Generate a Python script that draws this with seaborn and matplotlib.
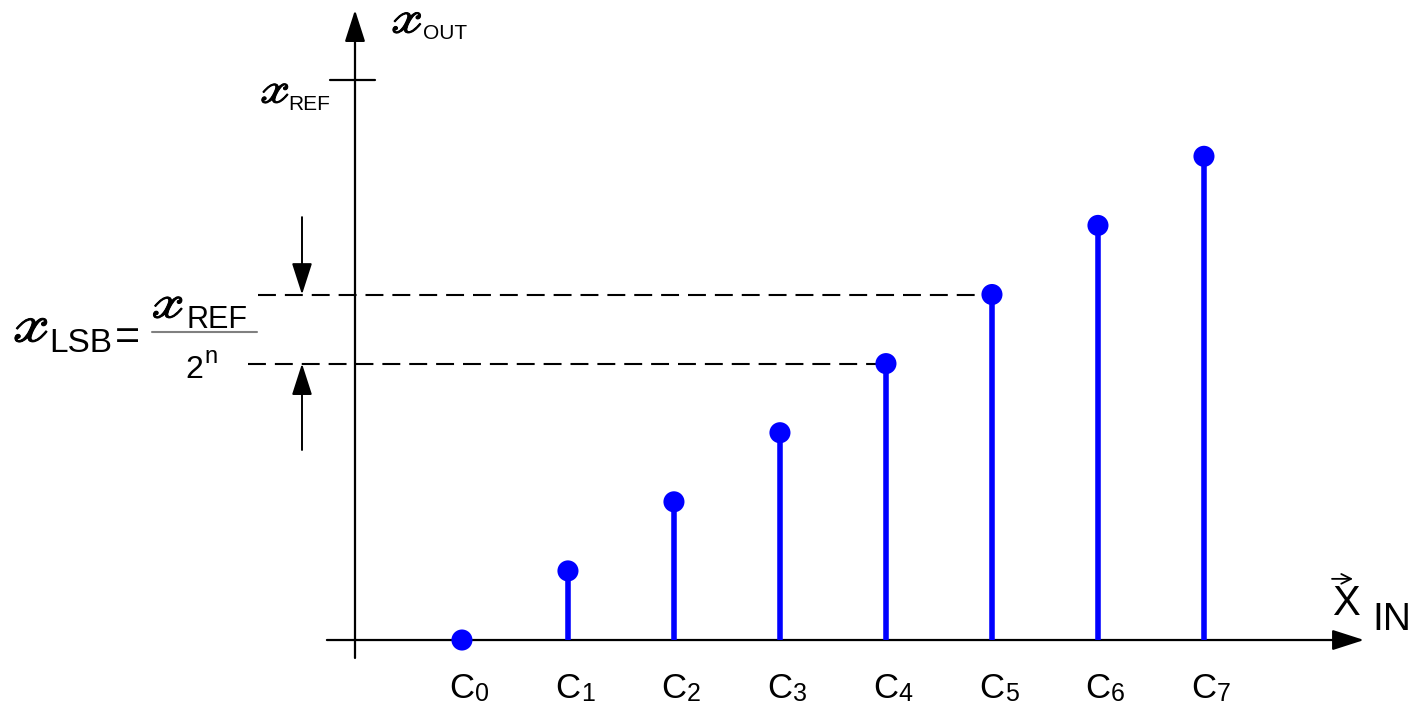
import matplotlib
matplotlib.use("Agg")
import matplotlib.pyplot as plt
import matplotlib.patheffects as pe
import seaborn as sns
import pandas as pd

# Output codes of an ideal 3-bit DAC, in units of one LSB
codes = ["C0", "C1", "C2", "C3", "C4", "C5", "C6", "C7"]
code_index = [0, 1, 2, 3, 4, 5, 6, 7]
levels = [0, 1, 2, 3, 4, 5, 6, 7]
x_ref_level = 8.1

sns.set_theme(style="white")
plt.rcParams["font.family"] = ["Liberation Sans", "DejaVu Sans"]
plt.rcParams["text.color"] = "black"

BLUE = "#0000ff"
SANS = "Liberation Sans"
SCRIPT_X = r"$\mathscr{x}$"

fig = plt.figure(figsize=(14.13, 7.04), dpi=100)
ax = fig.add_axes([0, 0, 1, 1])

df = pd.DataFrame({"code": codes, "x": code_index, "level": levels})

# stems
stem = df[df["level"] > 0]
ax.vlines(stem["x"], 0, stem["level"], color=BLUE, lw=4.0, zorder=3)
# dots
sns.scatterplot(data=df, x="x", y="level", ax=ax, color=BLUE, s=230,
                edgecolor="none", zorder=4, legend=False)
ax.set_xlim(-4.358, 8.972)
ax.set_ylim(-0.926, 9.262)
ax.set_axis_off()

# axes with arrow heads
head = "-|>,head_length=1.4,head_width=0.45"
arrow_kw = dict(mutation_scale=14, color="black", shrinkA=0, shrinkB=0)
ax.annotate("", xy=(8.51, 0), xytext=(-1.274, 0),
            arrowprops=dict(arrowstyle=head, lw=1.6, **arrow_kw), zorder=2)
ax.annotate("", xy=(-1.009, 9.117), xytext=(-1.009, -0.26),
            arrowprops=dict(arrowstyle=head, lw=1.6, **arrow_kw), zorder=2)

# full-scale tick on the vertical axis
ax.plot([-1.245, -0.821], [x_ref_level, x_ref_level], color="black", lw=1.6)

# dashed guides to codes 4 and 5
dash = (0, (8.6, 4.3))
ax.plot([-1.925, code_index[5]], [levels[5], levels[5]], color="black", lw=1.5,
        linestyle=dash, zorder=2)
ax.plot([-2.019, code_index[4]], [levels[4], levels[4]], color="black", lw=1.5,
        linestyle=dash, zorder=2)

# LSB step arrows
ax.annotate("", xy=(-1.509, levels[5]), xytext=(-1.509, 6.12),
            arrowprops=dict(arrowstyle=head, lw=1.4, **arrow_kw))
ax.annotate("", xy=(-1.509, levels[4]), xytext=(-1.509, 2.75),
            arrowprops=dict(arrowstyle=head, lw=1.4, **arrow_kw))

# code labels under the horizontal axis
for xi, name in zip(code_index, codes):
    ax.text(xi, -0.84, "C", family=SANS, fontsize=25, ha="center",
            va="baseline", color="black")
    ax.text(xi + 0.12, -0.885, name[1:], family=SANS, fontsize=18, ha="left",
            va="baseline", color="black")


def script_x(x, y, size):
    return ax.text(x, y, SCRIPT_X, fontsize=size, ha="left", va="baseline",
                   color="black", math_fontfamily="stix",
                   path_effects=[pe.withStroke(linewidth=0.7,
                                               foreground="black")])


def sans(x, y, s, size, **kw):
    return ax.text(x, y, s, family=SANS, fontsize=size, ha=kw.pop("ha", "left"),
                   va=kw.pop("va", "baseline"), color="black", **kw)


# vertical axis title
script_x(-0.68, 8.784, 33)
sans(-0.365, 8.697, "OUT", 15)

# full-scale label
script_x(-1.915, 7.771, 31)
sans(-1.64, 7.670, "REF", 15)

# LSB definition
script_x(-4.25, 4.313, 38)
sans(-3.896, 4.168, "LSB", 24)
sans(-3.16, 4.37, "=", 31, ha="center", va="center")
ax.plot([-2.925, -1.934], [4.457, 4.457], color="#808080", lw=1.5)
script_x(-2.94, 4.66, 34)
sans(-2.594, 4.515, "REF", 22)
sans(-2.613, 3.79, "2", 23)
sans(-2.434, 4.009, "n", 17)

# horizontal axis title
sans(8.208, 0.362, "X", 30)
ax.annotate("", xy=(8.406, 0.885), xytext=(8.208, 0.885),
            arrowprops=dict(arrowstyle="->,head_length=0.5,head_width=0.25",
                            mutation_scale=14, color="black", lw=1.3,
                            shrinkA=0, shrinkB=0))
sans(8.585, 0.145, "IN", 28)

fig.savefig("out.png", dpi=100)
